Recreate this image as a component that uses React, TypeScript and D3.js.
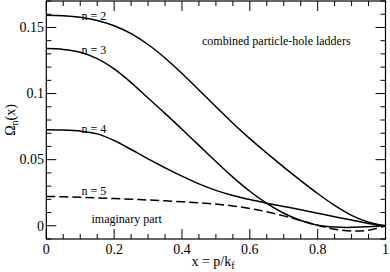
import React from "react";
import * as d3 from "d3";

const xs = [0, 0.05, 0.1, 0.15, 0.2, 0.25, 0.3, 0.35, 0.4, 0.45, 0.5, 0.55, 0.6, 0.65, 0.7, 0.75, 0.8, 0.85, 0.9, 0.95, 1.0];
const n2 = [0.1593, 0.1589, 0.1577, 0.1553, 0.1513, 0.1453, 0.1371, 0.1269, 0.1152, 0.1027, 0.09, 0.0776, 0.0659, 0.0549, 0.0444, 0.0342, 0.0244, 0.0154, 0.0079, 0.0027, 0];
const n3 = [0.134, 0.1334, 0.1312, 0.1264, 0.1186, 0.1083, 0.0966, 0.085, 0.073, 0.0608, 0.0486, 0.0368, 0.0261, 0.0169, 0.0095, 0.004, 0.0004, -0.001, -0.0012, -0.0007, 0];
const n4 = [0.0726, 0.0724, 0.0716, 0.0695, 0.0645, 0.0577, 0.0506, 0.0439, 0.0375, 0.0317, 0.0268, 0.0229, 0.0198, 0.0171, 0.0146, 0.0121, 0.0095, 0.0069, 0.0043, 0.0018, 0];
const imag = [0.0222, 0.0219, 0.0215, 0.0211, 0.0206, 0.0201, 0.0195, 0.0189, 0.0182, 0.0174, 0.0164, 0.015, 0.0131, 0.0106, 0.0075, 0.004, 0.0004, -0.0026, -0.0039, -0.0033, 0];

const xTicks = [0, 0.2, 0.4, 0.6, 0.8, 1];
const xTickLabels = ["0", "0.2", "0.4", "0.6", "0.8", "1"];
const yTicks = [0, 0.05, 0.1, 0.15];
const yTickLabels = ["0", "0.05", "0.1", "0.15"];

const labels = [
  { text: "n = 2", x: 0.104, y: 0.1557 },
  { text: "n = 3", x: 0.104, y: 0.1301 },
  { text: "n = 4", x: 0.104, y: 0.0703 },
  { text: "n = 5", x: 0.104, y: 0.0236 },
];

const FONT = '"Liberation Serif", "Times New Roman", Tinos, "DejaVu Serif", serif';

export default function App() {
  const L = 46.3, R = 385.5, T = 1, B = 239;
  const x = d3.scaleLinear().domain([0, 1]).range([L, R]);
  const y = d3.scaleLinear().domain([-0.01, 0.17]).range([B, T]);
  const line = d3
    .line<number>()
    .x((_, i) => x(xs[i]))
    .y((d) => y(d))
    .curve(d3.curveCatmullRom.alpha(0.5));

  const xMinor = d3.range(0, 1.0001, 0.05).filter((v) => Math.abs(v * 5 - Math.round(v * 5)) > 1e-6);
  const yMinor = d3.range(-0.01, 0.17001, 0.01).filter((v) => Math.abs(v * 20 - Math.round(v * 20)) > 1e-6);
  const ts = { fontFamily: FONT };

  return (
    <svg width={390} height={272} style={{ position: "absolute", left: 0, top: 0, background: "#fff", fontFamily: FONT }}>
      <rect x={0} y={0} width={390} height={272} fill="#fff" />
      <g stroke="#000" strokeWidth={1}>
        {xTicks.map((v) => (
          <g key={"xt" + v}>
            <line x1={x(v)} x2={x(v)} y1={B} y2={B - 10} />
            <line x1={x(v)} x2={x(v)} y1={T} y2={T + 10} />
          </g>
        ))}
        {xMinor.map((v) => (
          <g key={"xm" + v}>
            <line x1={x(v)} x2={x(v)} y1={B} y2={B - 5} />
            <line x1={x(v)} x2={x(v)} y1={T} y2={T + 5} />
          </g>
        ))}
        {yTicks.map((v) => (
          <g key={"yt" + v}>
            <line x1={L} x2={L + 10} y1={y(v)} y2={y(v)} />
            <line x1={R} x2={R - 10} y1={y(v)} y2={y(v)} />
          </g>
        ))}
        {yMinor.map((v) => (
          <g key={"ym" + v}>
            <line x1={L} x2={L + 5} y1={y(v)} y2={y(v)} />
            <line x1={R} x2={R - 5} y1={y(v)} y2={y(v)} />
          </g>
        ))}
      </g>
      <rect x={L} y={T} width={R - L} height={B - T} fill="none" stroke="#000" strokeWidth={1.2} />
      <g fontSize={14} fill="#000">
        {xTicks.map((v, i) => (
          <text key={"xl" + v} x={x(v)} y={254} textAnchor="middle" style={ts}>
            {xTickLabels[i]}
          </text>
        ))}
        {yTicks.map((v, i) => (
          <text key={"yl" + v} x={44} y={y(v)} dy="0.34em" textAnchor="end" style={ts}>
            {yTickLabels[i]}
          </text>
        ))}
      </g>
      <g fill="none" stroke="#000" strokeWidth={1.5}>
        <path d={line(n2) || ""} />
        <path d={line(n3) || ""} />
        <path d={line(n4) || ""} />
        <path d={line(imag) || ""} strokeDasharray="9,4" />
      </g>
      <g fontSize={12} fill="#000">
        {labels.map((l) => (
          <text key={l.text} x={x(l.x)} y={y(l.y)} style={ts}>
            {l.text}
          </text>
        ))}
        <text x={202} y={44.5} style={ts}>combined particle-hole ladders</text>
        <text x={91.5} y={222.5} style={ts}>imaginary part</text>
      </g>
      <text x={213} y={266} fontSize={14} textAnchor="middle" style={ts}>
        x = p/k<tspan fontSize={10} dy={3}>f</tspan>
      </text>
      <text transform="translate(15,120) rotate(-90)" fontSize={14} textAnchor="middle" style={ts}>
        Ω<tspan fontSize={10} dy={3}>n</tspan>
        <tspan dy={-3}>(x)</tspan>
      </text>
    </svg>
  );
}
